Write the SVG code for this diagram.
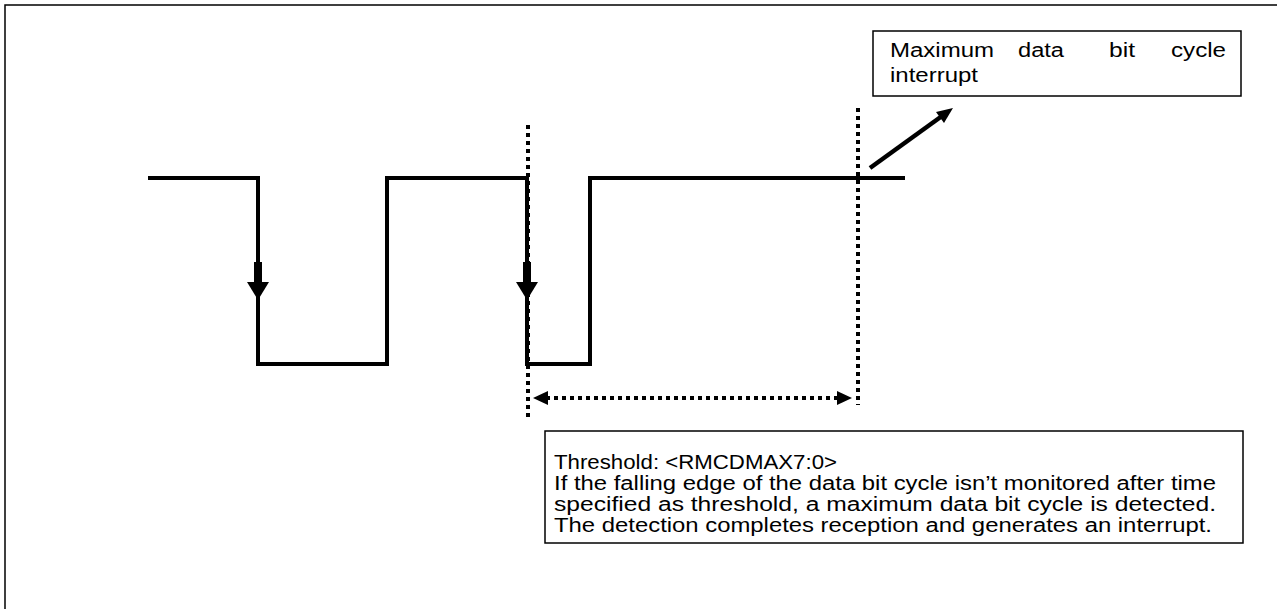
<svg xmlns="http://www.w3.org/2000/svg" width="1277" height="609" viewBox="0 0 1277 609">
<style>
.frame{fill:none;stroke:#000;stroke-width:1.5}
.box{fill:#fff;stroke:#000;stroke-width:1.5}
.wave{fill:none;stroke:#000;stroke-width:4;stroke-linejoin:miter}
.dot{fill:none;stroke:#000;stroke-width:4;stroke-dasharray:4 4}
.t{font-family:"Liberation Sans",Arial,sans-serif;font-size:20px;fill:#000}
</style>
<rect class="frame" x="5" y="5" width="1300" height="700"/>
<g id="signal">
<polyline class="wave" points="148,178 258,178 258,364 387,364 387,178 527,178 527,364 590,364 590,178 905,178"/>
</g>
<g id="connectors">
<line x1="258" y1="262" x2="258" y2="284" stroke="#000" stroke-width="8"/>
<polygon points="247,282 269,282 258,300"/>
<line x1="527" y1="262" x2="527" y2="284" stroke="#000" stroke-width="8"/>
<polygon points="516,282 538,282 527,300"/>
<line class="dot" x1="528" y1="125" x2="528" y2="420"/>
<line class="dot" x1="858" y1="108" x2="858" y2="405"/>
<line class="dot" x1="546" y1="398" x2="838" y2="398"/>
<polygon points="533,398 548,391 548,405"/>
<polygon points="852,398 837,391 837,405"/>
<line x1="870" y1="168" x2="942" y2="116" stroke="#000" stroke-width="4.5"/>
<polygon points="953,108 936,112 944,123"/>
</g>
<g id="label-interrupt">
<rect class="box" x="873" y="31" width="368" height="65"/>
<text class="t" x="890" y="57" textLength="104" lengthAdjust="spacingAndGlyphs">Maximum</text>
<text class="t" x="1018" y="57" textLength="46" lengthAdjust="spacingAndGlyphs">data</text>
<text class="t" x="1109" y="57" textLength="26" lengthAdjust="spacingAndGlyphs">bit</text>
<text class="t" x="1171" y="57" textLength="55" lengthAdjust="spacingAndGlyphs">cycle</text>
<text class="t" x="890" y="82" textLength="88" lengthAdjust="spacingAndGlyphs">interrupt</text>
</g>
<g id="label-threshold">
<rect class="box" x="545" y="431" width="698" height="112"/>
<text class="t" x="554" y="469" textLength="283" lengthAdjust="spacingAndGlyphs">Threshold: &lt;RMCDMAX7:0&gt;</text>
<text class="t" x="554" y="490" textLength="662" lengthAdjust="spacingAndGlyphs">If the falling edge of the data bit cycle isn’t monitored after time</text>
<text class="t" x="554" y="511" textLength="662" lengthAdjust="spacingAndGlyphs">specified as threshold, a maximum data bit cycle is detected.</text>
<text class="t" x="554" y="532" textLength="658" lengthAdjust="spacingAndGlyphs">The detection completes reception and generates an interrupt.</text>
</g>
</svg>
